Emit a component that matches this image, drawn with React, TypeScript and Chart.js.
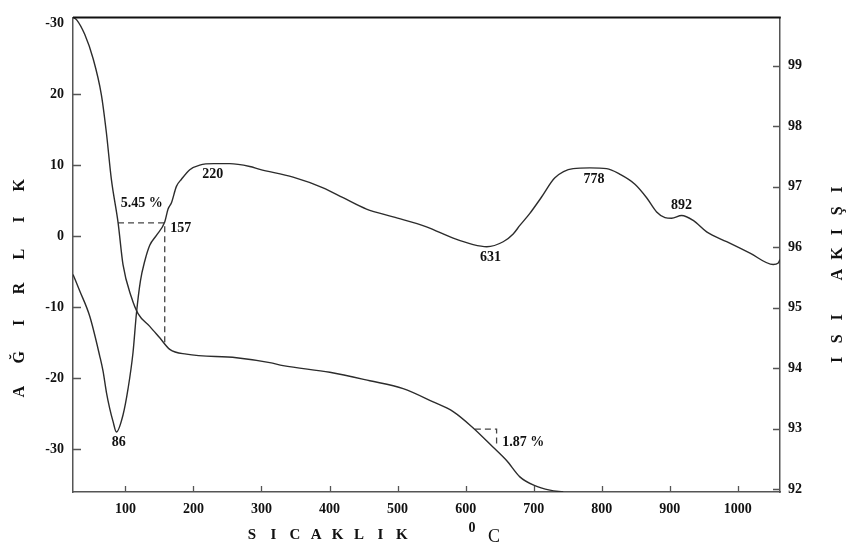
import React, { useEffect, useRef } from "react";
import { Chart, registerables } from "chart.js";

Chart.register(...registerables);

// ---- ticks ----
const xTicks = [100, 200, 300, 400, 500, 600, 700, 800, 900, 1000];
const xTickLabels = ["100", "200", "300", "400", "500", "600", "700", "800", "900", "1000"];
const leftTicks = [-30, -20, -10, 0, 10, 20, 30];
const leftTickLabels = ["-30", "-20", "-10", "0", "10", "20", "-30"];
const rightTicks = [92, 93, 94, 95, 96, 97, 98, 99];
const rightTickLabels = ["92", "93", "94", "95", "96", "97", "98", "99"];

// ---- DTA curve (left axis) ----
const dtaTemp = [
  23, 32.8, 47.6, 62.3, 67.1, 72.1, 77, 81.8, 86.8, 96.5, 103.9, 111.2, 116.2,
  122.1, 128.4, 135.8, 145.6, 157.8, 162.7, 167.7, 175, 182.4, 194.6, 209.3,
  230, 253.4, 282.8, 297.5, 346.4, 390.5, 419.9, 454.3, 493.5, 542.5, 581.7,
  611.1, 631, 655.2, 669.9, 679.7, 694.4, 711.6, 731.2, 758, 782.6, 807.2,
  826.8, 848.8, 866, 880.7, 893, 902.7, 917.4, 934.5, 954.2, 983.6, 1017.9,
  1052, 1059.5, 1062,
];
const dtaValue = [
  -5.4, -7.7, -11.3, -16.9, -19.0, -22.0, -24.3, -26.1, -27.6, -25.2, -21.5,
  -16.4, -10.9, -6.3, -3.55, -1.3, 0.1, 1.98, 3.8, 4.7, 7.0, 8.0, 9.35, 10.0,
  10.2, 10.2, 9.8, 9.4, 8.3, 6.8, 5.4, 3.8, 2.7, 1.3, -0.3, -1.2, -1.5, -0.8,
  0.3, 1.5, 3.2, 5.5, 8.2, 9.5, 9.6, 9.5, 8.7, 7.3, 5.4, 3.4, 2.6, 2.5, 2.9,
  2.2, 0.6, -0.8, -2.4, -4.0, -3.8, -3.3,
];

// ---- TGA curve (right axis) ----
const tgaTemp = [
  23.5, 28.4, 40.2, 52.5, 64.7, 72, 79.4, 89.2, 96.5, 108.9, 118.6, 135.8,
  150.5, 165.2, 189.7, 263.2, 312.2, 331.7, 400.4, 459.2, 508.2, 552.3, 581.7,
  611.1, 640.5, 660.2, 679.7, 700.8, 723.8, 743.4,
];
const tgaValue = [
  99.8, 99.76, 99.52, 99.12, 98.52, 97.9, 97.12, 96.41, 95.71, 95.17, 94.9,
  94.69, 94.5, 94.31, 94.23, 94.17, 94.09, 94.04, 93.93, 93.79, 93.66, 93.44,
  93.28, 93.01, 92.69, 92.47, 92.2, 92.06, 91.98, 91.95,
];

// ---- mass-loss step markers (right axis) ----
const step1Temp = [89.2, 157.8, 157.8];
const step1Value = [96.4, 96.4, 94.41];
const step2Temp = [613.6, 645.5, 645.5];
const step2Value = [92.99, 92.99, 92.75];

// ---- annotations (left-axis coordinates) ----
const noteText = ["86", "157", "220", "5.45 %", "631", "778", "892", "1.87 %"];
const noteTemp = [90.2, 181.3, 228.4, 124, 636.6, 788.5, 917.4, 684.6];
const noteValue = [-29.1, 1.15, 8.7, 4.56, -3.04, 8.0, 4.28, -29.1];

// ---- axis titles ----
const leftTitle = ["A", "Ğ", "I", "R", "L", "I", "K"];
const rightTitle = ["I", "S", "I", "", "A", "K", "I", "Ş", "I"];
const bottomTitle = ["S", "I", "C", "A", "K", "L", "I", "K"];
const unitSup = "0";
const unitMain = "C";

const SERIF = '"Liberation Serif", "DejaVu Serif", serif';
const INK = "#111";
const LINE = "#2c2c2c";
const AXIS = "#555";

const overlay = {
  id: "overlay",
  afterDraw(chart: any) {
    const { ctx, chartArea, scales } = chart;
    const { left, right, top, bottom } = chartArea;
    const x = scales.x;
    const y = scales.y;
    const y1 = scales.y1;
    ctx.save();
    // top frame line
    ctx.strokeStyle = "#111";
    ctx.lineWidth = 2;
    ctx.beginPath();
    ctx.moveTo(left, top);
    ctx.lineTo(right + 0.75, top);
    ctx.stroke();

    // inward tick marks
    ctx.strokeStyle = AXIS;
    ctx.lineWidth = 1.3;
    ctx.beginPath();
    xTicks.forEach((v) => {
      const p = Math.round(x.getPixelForValue(v)) + 0.5;
      ctx.moveTo(p, bottom);
      ctx.lineTo(p, bottom - 6);
    });
    leftTicks.forEach((v) => {
      if (v === 30) return;
      const p = Math.round(y.getPixelForValue(v)) + 0.5;
      ctx.moveTo(left, p);
      ctx.lineTo(left + 8, p);
    });
    rightTicks.forEach((v) => {
      const p = Math.round(y1.getPixelForValue(v)) + 0.5;
      ctx.moveTo(right, p);
      ctx.lineTo(right - 7, p);
    });
    ctx.stroke();

    // annotations
    ctx.fillStyle = INK;
    ctx.font = `bold 14px ${SERIF}`;
    ctx.textAlign = "center";
    ctx.textBaseline = "middle";
    noteText.forEach((t, i) => {
      ctx.fillText(t, x.getPixelForValue(noteTemp[i]), y.getPixelForValue(noteValue[i]));
    });

    // left title
    ctx.font = `bold 16px ${SERIF}`;
    ctx.save();
    ctx.translate(20, 288.5);
    ctx.rotate(-Math.PI / 2);
    leftTitle.forEach((c, i) => ctx.fillText(c, (i - 3) * 34.4, 0));
    ctx.restore();

    // right title
    ctx.save();
    ctx.translate(838, 274.8);
    ctx.rotate(-Math.PI / 2);
    rightTitle.forEach((c, i) => {
      if (c) ctx.fillText(c, (i - 4) * 21.3, 0);
    });
    ctx.restore();

    // bottom title
    ctx.font = `bold 15px ${SERIF}`;
    bottomTitle.forEach((c, i) => ctx.fillText(c, 252 + i * 21.4, 535));
    ctx.font = `bold 14px ${SERIF}`;
    ctx.fillText(unitSup, 472, 528);
    ctx.font = `18px ${SERIF}`;
    ctx.fillText(unitMain, 494, 537);
    ctx.restore();
  },
};

const tickFont = { family: SERIF, size: 14, weight: "bold" as const };

export default function App() {
  const ref = useRef<HTMLCanvasElement | null>(null);
  useEffect(() => {
    if (!ref.current) return;
    const pts = (xs: number[], ys: number[]) => xs.map((v, i) => ({ x: v, y: ys[i] }));
    const chart = new Chart(ref.current, {
      type: "line",
      data: {
        datasets: [
          {
            label: "DTA",
            data: pts(dtaTemp, dtaValue),
            yAxisID: "y",
            borderColor: LINE,
            borderWidth: 1.4,
            pointRadius: 0,
            cubicInterpolationMode: "monotone",
            fill: false,
          },
          {
            label: "TGA",
            data: pts(tgaTemp, tgaValue),
            yAxisID: "y1",
            borderColor: LINE,
            borderWidth: 1.4,
            pointRadius: 0,
            cubicInterpolationMode: "monotone",
            fill: false,
          },
          {
            label: "step1",
            data: pts(step1Temp, step1Value),
            yAxisID: "y1",
            borderColor: "#444",
            borderWidth: 1.3,
            borderDash: [6, 4],
            pointRadius: 0,
            tension: 0,
            fill: false,
          },
          {
            label: "step2",
            data: pts(step2Temp, step2Value),
            yAxisID: "y1",
            borderColor: "#444",
            borderWidth: 1.3,
            borderDash: [6, 4],
            pointRadius: 0,
            tension: 0,
            fill: false,
          },
        ],
      },
      options: {
        responsive: false,
        animation: false,
        devicePixelRatio: 1,
        layout: { padding: { top: 8, left: 0, right: 0, bottom: 0 } },
        plugins: { legend: { display: false }, tooltip: { enabled: false } },
        scales: {
          x: {
            type: "linear",
            min: 23,
            max: 1062,
            afterFit: (s: any) => {
              s.height = 54;
            },
            afterBuildTicks: (s: any) => {
              s.ticks = xTicks.map((v) => ({ value: v }));
            },
            grid: { display: false, drawTicks: false },
            border: { display: true, color: AXIS, width: 1.5 },
            ticks: {
              font: tickFont,
              color: INK,
              padding: 9,
              maxRotation: 0,
              autoSkip: false,
              callback: (v: any) => xTickLabels[xTicks.indexOf(Number(v))],
            },
          },
          y: {
            type: "linear",
            position: "left",
            min: -36.05,
            max: 30.8,
            afterFit: (s: any) => {
              s.width = 73;
            },
            afterBuildTicks: (s: any) => {
              s.ticks = leftTicks.map((v) => ({ value: v }));
            },
            grid: { display: false, drawTicks: false },
            border: { display: true, color: AXIS, width: 1.5 },
            ticks: {
              font: tickFont,
              color: INK,
              padding: 9,
              autoSkip: false,
              callback: (v: any) => leftTickLabels[leftTicks.indexOf(Number(v))],
            },
          },
          y1: {
            type: "linear",
            position: "right",
            min: 91.95,
            max: 99.8,
            afterFit: (s: any) => {
              s.width = 66;
            },
            afterBuildTicks: (s: any) => {
              s.ticks = rightTicks.map((v) => ({ value: v }));
            },
            grid: { display: false, drawTicks: false },
            border: { display: true, color: AXIS, width: 1.5 },
            ticks: {
              font: tickFont,
              color: INK,
              padding: 8,
              autoSkip: false,
              callback: (v: any) => rightTickLabels[rightTicks.indexOf(Number(v))],
            },
          },
        },
      },
      plugins: [overlay],
    } as any);
    return () => chart.destroy();
  }, []);
  return (
    <div style={{ position: "absolute", left: 0, top: 0, width: 846, height: 546, background: "#fff" }}>
      <canvas ref={ref} width={846} height={546} />
    </div>
  );
}
